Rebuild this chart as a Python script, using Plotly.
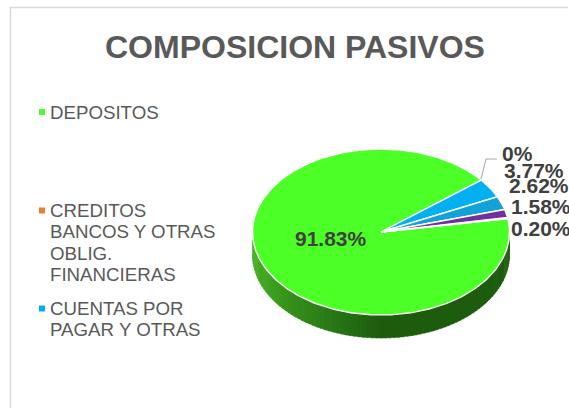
import math
import numpy as np
import plotly.graph_objects as go

title = "COMPOSICION PASIVOS"
slice_names = ["DEPOSITOS", "CREDITOS BANCOS Y OTRAS OBLIG. FINANCIERAS", "CUENTAS POR PAGAR Y OTRAS",
               "OTROS A", "OTROS B", "OTROS C"]
slice_values = [91.83, 0.0, 3.77, 2.62, 1.58, 0.20]
slice_labels = ["91.83%", "0%", "3.77%", "2.62%", "1.58%", "0.20%"]
slice_colors = ["#4CFF27", "#ED7D31", "#00B0F0", "#12A1D8", "#7030A0", "#4CFF27"]

legend_lines = [["DEPOSITOS"], ["CREDITOS", "BANCOS Y OTRAS", "OBLIG.", "FINANCIERAS"], ["CUENTAS POR", "PAGAR Y OTRAS"]]
legend_colors = ["#4CFF27", "#ED7D31", "#00B0F0"]
legend_y = [112, 210.5, 308.5]

CX, CY, RX, RY, DEPTH = 381, 232, 128.5, 83, 23
START = 9.3  # degrees counter-clockwise from east, slices run clockwise

def pt(deg, dy=0.0):
    a = np.radians(deg)
    return CX + RX * np.cos(a), CY - RY * np.sin(a) + dy

fig = go.Figure()

# side wall with a left-to-right shading
stops_x = [0.0, 0.12, 0.30, 0.50, 1.0]
stops_rgb = [(70, 176, 34), (56, 150, 28), (42, 122, 22), (30, 92, 14), (31, 92, 13)]
edges = np.linspace(180, 360, 91)
for a0, a1 in zip(edges[:-1], edges[1:]):
    mid = (a0 + a1) / 2
    t = (math.cos(math.radians(mid)) + 1) / 2
    c = [int(np.interp(t, stops_x, [s[i] for s in stops_rgb])) for i in range(3)]
    arc = np.linspace(a0 - 0.3, a1 + 0.3, 4)
    xt, yt = pt(arc)
    xb, yb = pt(arc[::-1], DEPTH)
    col = f"rgb({c[0]},{c[1]},{c[2]})"
    fig.add_trace(go.Scatter(x=list(xt) + list(xb), y=list(yt) + list(yb), fill="toself",
                             fillcolor=col, mode="lines", line=dict(width=0.5, color=col),
                             hoverinfo="skip", showlegend=False))

# top face, slices from the values
angle = START
for name, v, col in zip(slice_names, slice_values, slice_colors):
    sweep = v / sum(slice_values) * 360
    if sweep > 0:
        arc = np.linspace(angle, angle - sweep, max(3, int(sweep) + 2))
        ax, ay = pt(arc)
        fig.add_trace(go.Scatter(x=[CX] + list(ax) + [CX], y=[CY] + list(ay) + [CY], fill="toself",
                                 fillcolor=col, mode="lines", line=dict(color="white", width=1.4),
                                 name=name, showlegend=False, hoverinfo="name"))
    angle -= sweep

# legend
fig.add_trace(go.Scatter(x=[42] * 3, y=legend_y, mode="markers",
                         marker=dict(symbol="square", size=6, color=legend_colors, line=dict(width=0)),
                         hoverinfo="skip", showlegend=False))
annos = []
LINE_H = 21.4
for lines, y in zip(legend_lines, legend_y):
    for i, txt in enumerate(lines):
        annos.append(dict(x=50, y=y + i * LINE_H, xref="x", yref="y", text=txt, showarrow=False,
                          xanchor="left", yanchor="middle", align="left", borderpad=0, xshift=-1,
                          font=dict(family="Liberation Sans", size=18.7, color="#595959")))

# data labels
label_pos = [(517, 153), (534, 170), (539, 185), (541, 206), (541, 228)]
annos.append(dict(x=331, y=238, xref="x", yref="y", text=f"<b>{slice_labels[0]}</b>", showarrow=False,
                  font=dict(family="Liberation Sans", size=21, color="#404040")))
for txt, (x, y) in zip(slice_labels[1:], label_pos):
    annos.append(dict(x=x, y=y, xref="x", yref="y", text=f"<b>{txt}</b>", showarrow=False,
                      font=dict(family="Liberation Sans", size=21, color="#404040")))
annos.append(dict(x=295, y=47, xref="x", yref="y", text=f"<b>{title}</b>", showarrow=False,
                  font=dict(family="Liberation Sans", size=32, color="#595959")))

# leader line of the 0% label
fig.add_trace(go.Scatter(x=[481, 486, 497], y=[179, 159, 159], mode="lines",
                         line=dict(color="#A6A6A6", width=1), hoverinfo="skip", showlegend=False))

shapes = [dict(type="path", path="M 10.5 420 L 10.5 7.5 L 568 7.5", xref="x", yref="y",
               line=dict(color="#D9D9D9", width=1.5))]

fig.update_layout(width=569, height=408, margin=dict(l=0, r=0, t=0, b=0), autosize=False,
                  paper_bgcolor="white", plot_bgcolor="white", showlegend=False,
                  annotations=annos, shapes=shapes,
                  xaxis=dict(range=[0, 569], visible=False, fixedrange=True),
                  yaxis=dict(range=[408, 0], visible=False, fixedrange=True))
fig.write_html("out.html", config=dict(displayModeBar=False),
               post_script="document.body.style.margin='0';document.body.style.overflow='hidden';")
